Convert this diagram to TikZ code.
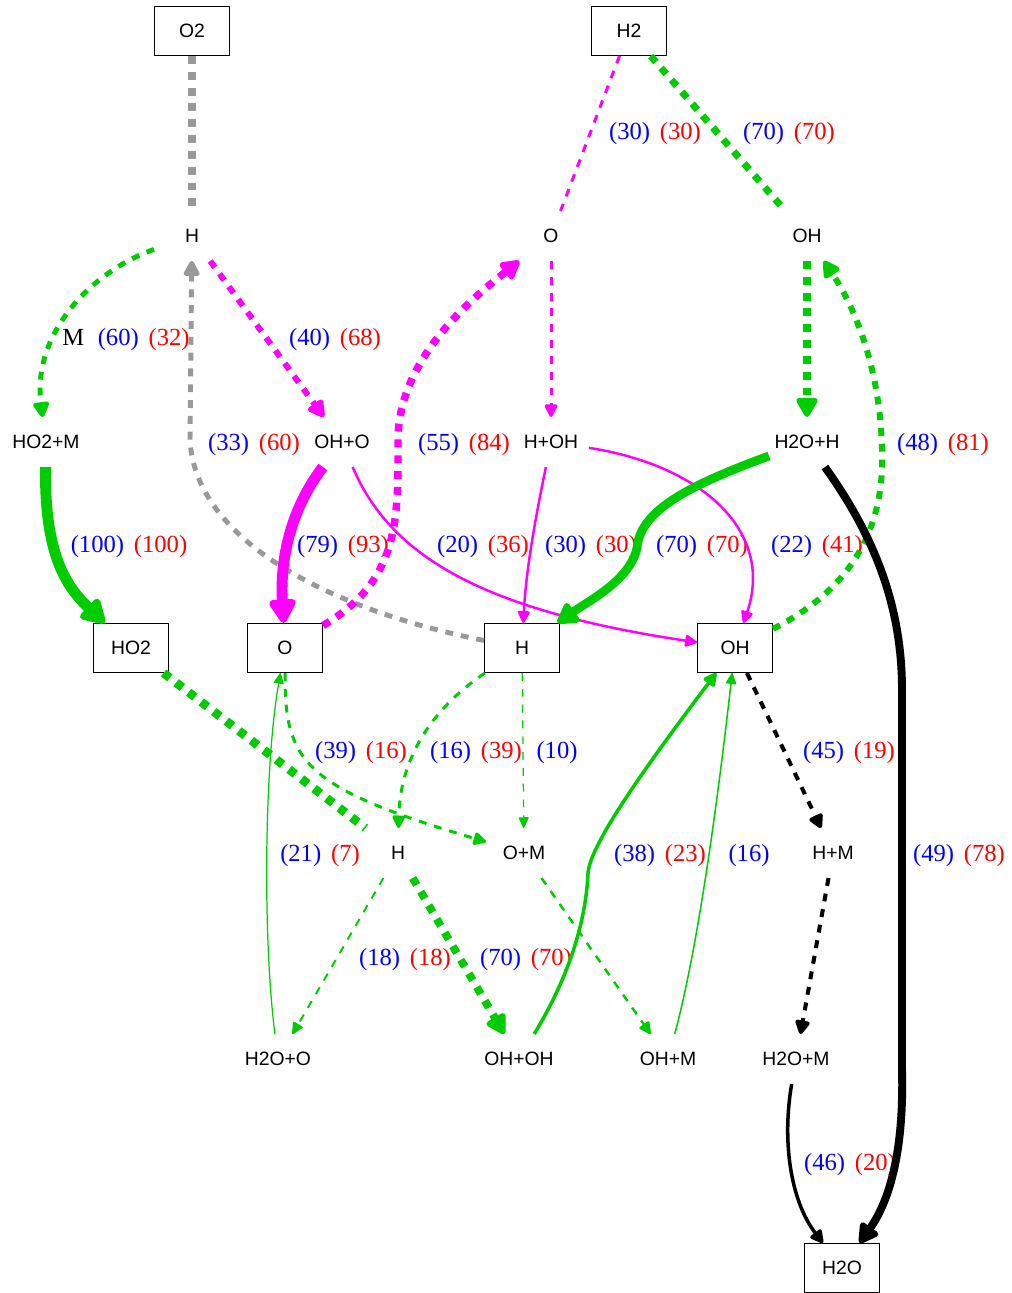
\documentclass[tikz,border=0pt]{standalone}
\usepackage{fontspec}
\setmainfont{Liberation Serif}
\setsansfont{Liberation Sans}
\usetikzlibrary{arrows.meta}
\definecolor{grn}{RGB}{0,204,0}
\definecolor{mag}{RGB}{255,0,255}
\definecolor{gry}{RGB}{153,153,153}
\newcommand\flux[2]{\textcolor{blue}{(#1)}\hspace{0.4em}\textcolor{red}{(#2)}}
\tikzset{
  box/.style={rectangle,draw,line width=0.6pt,minimum width=1.5cm,minimum height=0.98cm,
    inner sep=0pt,font=\sffamily\fontsize{11}{13}\selectfont},
  spec/.style={box,draw=none},
  lbl/.style={inner sep=0pt,font=\fontsize{14}{16}\selectfont},
  dashline/.style={dash pattern=on 4.5pt off 4.5pt}
}

\begin{document}
\begin{tikzpicture}[x=0.02cm,y=-0.02cm,>={Triangle[length=5.5pt 1.6,width=4.5pt 2,round]}]
  \useasboundingbox (0,0) rectangle (1011,1293);

  \node[box] (n1) at (192,31) {O2};
  \node[box] (n2) at (629,31) {H2};
  \node[spec] (n3) at (192,236) {H};
  \node[spec] (n4) at (551,236) {O};
  \node[spec] (n5) at (807,236) {OH};
  \node[spec] (n6) at (46,442) {HO2+M};
  \node[spec] (n7) at (342,442) {OH+O};
  \node[spec] (n8) at (551,442) {H+OH};
  \node[spec] (n9) at (807,442) {H2O+H};
  \node[box] (n10) at (131,648) {HO2};
  \node[box] (n11) at (285,648) {O};
  \node[box] (n12) at (522,648) {H};
  \node[box] (n13) at (735,648) {OH};
  \node[spec] (n14) at (398,853) {H};
  \node[spec] (n15) at (524,853) {O+M};
  \node[spec] (n16) at (833,853) {H+M};
  \node[spec] (n17) at (278,1059) {H2O+O};
  \node[spec] (n18) at (519,1059) {OH+OH};
  \node[spec] (n19) at (668,1059) {OH+M};
  \node[spec] (n20) at (796,1059) {H2O+M};
  \node[box] (n21) at (842,1268) {H2O};

  \node[lbl] (l1) at (655,134) {\flux{30}{30}};
  \node[lbl] (l2) at (789,134) {\flux{70}{70}};
  \node[lbl] (l3) at (126,340) {M\hspace{0.55em}\flux{60}{32}};
  \node[lbl] (l4) at (335,340) {\flux{40}{68}};
  \node[lbl] (l5) at (254,445) {\flux{33}{60}};
  \node[lbl] (l6) at (464,445) {\flux{55}{84}};
  \node[lbl] (l7) at (943,445) {\flux{48}{81}};
  \node[lbl] (l8) at (129,547) {\flux{100}{100}};
  \node[lbl] (l9) at (343,547) {\flux{79}{93}};
  \node[lbl] (l10) at (483,547) {\flux{20}{36}};
  \node[lbl] (l11) at (591,547) {\flux{30}{30}};
  \node[lbl] (l12) at (702,547) {\flux{70}{70}};
  \node[lbl] (l13) at (817,547) {\flux{22}{41}};
  \node[lbl] (l14) at (361,753) {\flux{39}{16}};
  \node[lbl] (l15) at (476,753) {\flux{16}{39}};
  \node[lbl,blue] (l16) at (557,753) {(10)};
  \node[lbl] (l17) at (849,753) {\flux{45}{19}};
  \node[lbl] (l18) at (320,856) {\flux{21}{7}};
  \node[lbl] (l19) at (660,856) {\flux{38}{23}};
  \node[lbl,blue] (l20) at (749,856) {(16)};
  \node[lbl] (l21) at (959,856) {\flux{49}{78}};
  \node[lbl] (l22) at (405,960) {\flux{18}{18}};
  \node[lbl] (l23) at (526,960) {\flux{70}{70}};
  \node[lbl] (l24) at (850,1165) {\flux{46}{20}};

  \path[dashline]
    (n1) edge[gry,line width=4.5pt] (n3)
    (n2) edge[mag,line width=1.7pt] (n4)
         edge[grn,line width=4pt] (n5)
    (n3) edge[->,mag,line width=3.4pt] (n7)
    (n4) edge[->,mag,line width=1.7pt] (n8)
    (n5) edge[->,grn,line width=4.5pt] (n9)
    (n10) edge[grn,line width=5pt] (n14)
    (n12) edge[->,grn,line width=0.7pt] (n15)
    (n14) edge[->,grn,line width=1.1pt] (n17)
          edge[->,grn,line width=4.5pt] (n18)
    (n15) edge[->,grn,line width=1.4pt] (n19)
    (n13) edge[->,line width=2.3pt] (n16)
    (n16) edge[->,line width=2.3pt] (n20);

  \draw[->,grn,dashline,line width=2.8pt] (n3) .. controls (90,272) and (32,335) .. (n6);
  \draw[->,gry,dashline,line width=2.8pt] (n12) .. controls (330,610) and (195,540) .. (190,440) -- (n3);
  \draw[->,mag,dashline,line width=4.25pt] (n11) .. controls (400,580) and (398,520) .. (398,440)
    .. controls (398,360) and (470,300) .. (n4);
  \draw[->,grn,dashline,line width=3.4pt] (n13) .. controls (850,590) and (885,530) .. (882,450)
    .. controls (880,360) and (850,300) .. (n5);
  \draw[->,grn,line width=6.2pt] (n6) .. controls (44,560) and (70,590) .. (n10);
  \draw[->,mag,line width=6.2pt] (n7) .. controls (290,510) and (280,560) .. (n11);
  \draw[->,mag,line width=1.4pt] (n7) .. controls (390,555) and (480,610) .. (n13);
  \draw[->,mag,line width=1.4pt] (n8) .. controls (535,520) and (526,570) .. (n12);
  \draw[->,mag,line width=1.4pt] (n8) .. controls (700,465) and (775,530) .. (n13);
  \draw[->,grn,line width=5pt] (n9) .. controls (690,485) and (640,510) .. (637,548)
    .. controls (630,580) and (590,600) .. (n12);
  \draw[->,line width=4.5pt] (n9) .. controls (870,530) and (902,600) .. (902,690) -- (902,1070)
    .. controls (904,1150) and (890,1200) .. (n21);
  \draw[->,grn,dashline,line width=1.7pt] (n12) .. controls (430,710) and (400,760) .. (n14);
  \draw[->,grn,dashline,line width=1.7pt] (n11) .. controls (285,760) and (300,787) .. (n15);
  \draw[->,grn,line width=0.7pt] (n17) .. controls (262,930) and (265,760) .. (n11);
  \draw[->,grn,line width=2pt] (n18) .. controls (570,975) and (586,920) .. (588,873)
    .. controls (590,845) and (643,770) .. (n13);
  \draw[->,grn,line width=0.85pt] (n19) .. controls (700,940) and (720,780) .. (n13);
  \draw[->,line width=2pt] (n20) .. controls (782,1140) and (790,1200) .. (n21);
\end{tikzpicture}
\end{document}
